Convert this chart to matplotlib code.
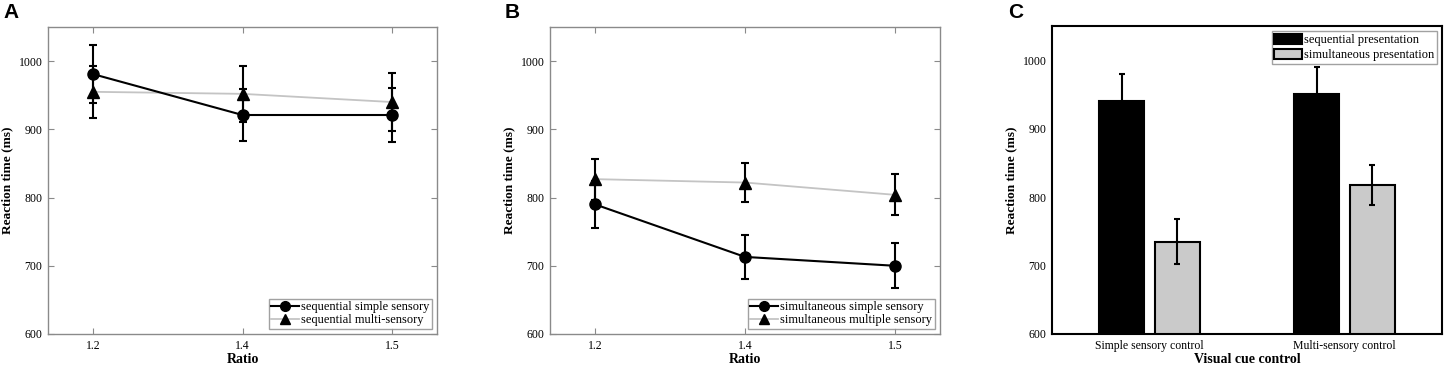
import numpy as np
import matplotlib
matplotlib.use('Agg')
import matplotlib.pyplot as plt

plt.rcParams['font.family'] = ['Liberation Serif', 'DejaVu Serif']
plt.rcParams['font.size'] = 8

ratios = ['1.2', '1.4', '1.5']

# panel A: sequential
seq_simple = [981, 921, 921]
seq_simple_err = [43, 38, 40]
seq_multi = [955, 952, 940]
seq_multi_err = [38, 41, 43]

# panel B: simultaneous
sim_simple = [790, 713, 700]
sim_simple_err = [35, 32, 33]
sim_multi = [827, 822, 804]
sim_multi_err = [30, 29, 30]

# panel C: bars
groups = ['Simple sensory control', 'Multi-sensory control']
bar_seq = [941, 950]
bar_seq_err = [39, 40]
bar_sim = [735, 818]
bar_sim_err = [33, 29]

W, H = 1446, 366
fig = plt.figure(figsize=(W / 100, H / 100), dpi=100)

def px_axes(l, r, t, b):
    return fig.add_axes([l / W, (H - b) / H, (r - l) / W, (b - t) / H])

gray_line = '#c4c4c4'
frame_gray = '#8a8a8a'

def line_panel(ax, simple, simple_err, multi, multi_err, labels):
    x = np.arange(1, len(ratios) + 1)
    ax.plot(x, multi, color=gray_line, lw=1.3, zorder=2)
    ax.errorbar(x, multi, yerr=multi_err, fmt='none', ecolor='k', elinewidth=1.5,
                capsize=3, capthick=1.5, zorder=3)
    ax.plot(x, multi, ls='none', marker='^', ms=8, color='k', zorder=4)
    ax.errorbar(x, simple, yerr=simple_err, fmt='none', ecolor='k', elinewidth=1.5,
                capsize=3, capthick=1.5, zorder=3)
    ax.plot(x, simple, color='k', lw=1.5, marker='o', ms=8, zorder=5)
    h1, = ax.plot([], [], color='k', lw=1.5, marker='o', ms=7)
    h2, = ax.plot([], [], color=gray_line, lw=1.3, marker='^', ms=7, mfc='k', mec='k')
    leg = ax.legend([h1, h2], labels, loc='lower right', fontsize=9, frameon=True,
                    fancybox=False, borderaxespad=0.4, handlelength=2.2,
                    handletextpad=0.2, borderpad=0.2, labelspacing=0.1)
    leg.get_frame().set_edgecolor(frame_gray)
    leg.get_frame().set_linewidth(1.0)
    ax.set_xlim(0.7, 3.3)
    ax.set_ylim(600, 1050)
    ax.set_xticks(x)
    ax.set_xticklabels(ratios)
    ax.set_yticks([600, 700, 800, 900, 1000])
    ax.tick_params(direction='in', length=4, width=0.8, color=frame_gray,
                   top=True, right=True, labelsize=8.5, pad=4)
    for s in ax.spines.values():
        s.set_color(frame_gray)
        s.set_linewidth(1.0)
    ax.set_xlabel('Ratio', fontsize=10, fontweight='bold', labelpad=1)
    ax.set_ylabel('Reaction time (ms)', fontsize=9.5, fontweight='bold', labelpad=4)

axA = px_axes(48, 437, 27, 334)
line_panel(axA, seq_simple, seq_simple_err, seq_multi, seq_multi_err,
           ['sequential simple sensory', 'sequential multi-sensory'])
axB = px_axes(550, 940, 27, 334)
line_panel(axB, sim_simple, sim_simple_err, sim_multi, sim_multi_err,
           ['simultaneous simple sensory', 'simultaneous multiple sensory'])

axC = px_axes(1052, 1442, 26, 334)
xg = np.arange(1, len(groups) + 1)
bw = 0.23
off = 0.1425
axC.bar(xg - off, bar_seq, bw, color='k', edgecolor='k', lw=1.5,
        label='sequential presentation', zorder=2)
axC.bar(xg + off, bar_sim, bw, color='#cacaca', edgecolor='k', lw=1.5,
        label='simultaneous presentation', zorder=2)
axC.errorbar(xg - off, bar_seq, yerr=bar_seq_err, fmt='none', ecolor='k',
             elinewidth=1.5, capsize=2, capthick=1.5, zorder=3)
axC.errorbar(xg + off, bar_sim, yerr=bar_sim_err, fmt='none', ecolor='k',
             elinewidth=1.5, capsize=2, capthick=1.5, zorder=3)
axC.set_xlim(0.5, 2.5)
axC.set_ylim(600, 1050)
axC.set_xticks(xg)
axC.set_xticklabels(groups)
axC.set_yticks([600, 700, 800, 900, 1000])
axC.tick_params(length=0, labelsize=8.5, pad=4)
for s in axC.spines.values():
    s.set_color('k')
    s.set_linewidth(1.5)
axC.set_xlabel('Visual cue control', fontsize=10, fontweight='bold', labelpad=1)
axC.set_ylabel('Reaction time (ms)', fontsize=9.5, fontweight='bold', labelpad=4)
legC = axC.legend(loc='upper right', fontsize=9, frameon=True, fancybox=False,
                  borderaxespad=0.4, handlelength=2.2, handleheight=0.9,
                  handletextpad=0.2, borderpad=0.2, labelspacing=0.2)
legC.get_frame().set_edgecolor(frame_gray)
legC.get_frame().set_linewidth(1.0)

for lab, xp in [('A', 3), ('B', 505), ('C', 1008)]:
    fig.text(xp / W, 1 - 3 / H, lab, fontsize=15, fontweight='bold',
             family='Liberation Sans', ha='left', va='top')

fig.savefig('out.png', dpi=100)
